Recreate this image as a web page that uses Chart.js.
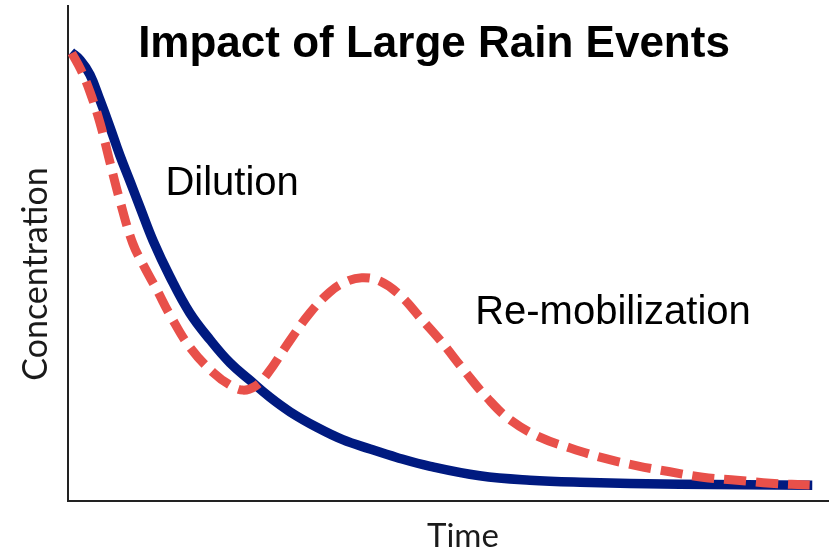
<!DOCTYPE html>
<html>
<head>
<meta charset="utf-8">
<script src="https://cdn.jsdelivr.net/npm/chart.js@4"></script>
<style>
  html, body { margin: 0; padding: 0; background: #fff; }
  #wrap { width: 829px; height: 551px; }
</style>
</head>
<body>
<div id="wrap"><canvas id="chart"></canvas></div>
<script>
// time (0-100) and concentration (0-100)
const dilutionX = [0.4, 1.6, 2.9, 4.2, 5.5, 6.8, 8.2, 9.5, 11.2, 13.4, 16.0, 18.7, 21.3, 23.9, 26.5, 29.2, 32.7, 36.1, 39.7, 43.2, 47.6, 54.1, 60.7, 67.3, 80.4, 97.8];
const dilutionY = [90.7, 89.1, 86.1, 81.0, 75.6, 69.9, 64.4, 59.2, 52.5, 45.3, 38.0, 32.5, 27.9, 24.4, 21.0, 18.0, 14.9, 12.4, 10.5, 8.8, 7.0, 5.1, 4.2, 3.8, 3.4, 3.2];

const remobX = [0.5, 1.7, 2.9, 4.2, 5.5, 6.8, 8.5, 10.1, 11.7, 13.4, 16.0, 19.1, 21.3, 23.0, 24.6, 26.2, 29.2, 31.8, 34.4, 36.4, 38.6, 41.0, 43.6, 46.3, 48.9, 52.2, 55.1, 58.1, 62.0, 66.0, 70.3, 74.8, 79.1, 83.4, 87.9, 92.3, 97.9];
const remobY = [90.5, 87.1, 82.6, 76.4, 68.5, 60.8, 52.1, 47.1, 42.6, 37.6, 31.1, 25.9, 23.4, 22.4, 23.2, 25.7, 32.5, 38.0, 42.2, 44.2, 45.1, 44.4, 41.6, 37.0, 32.5, 26.1, 20.8, 16.4, 12.9, 10.7, 8.7, 7.1, 5.9, 4.8, 4.2, 3.6, 3.2];

const chartTitle = 'Impact of Large Rain Events';
const xTitle = 'Time';
const yTitle = 'Concentration';
const notes = [
    { text: 'Dilution', x: 12.8, y: 64 },
    { text: 'Re-mobilization', x: 53.5, y: 38 }
];

const toPoints = (xs, ys) => xs.map((x, i) => ({ x: x, y: ys[i] }));

const textPlugin = {
    id: 'texts',
    afterDatasetsDraw(chart) {
        const ctx = chart.ctx;
        const xs = chart.scales.x;
        const ys = chart.scales.y;
        ctx.save();
        ctx.fillStyle = '#000';
        ctx.textAlign = 'center';
        ctx.textBaseline = 'alphabetic';
        ctx.font = 'bold 44px "Liberation Sans", Arial, sans-serif';
        ctx.fillText(chartTitle, 434, 57);

        ctx.textAlign = 'left';
        ctx.textBaseline = 'middle';
        ctx.font = '40px "Liberation Sans", Arial, sans-serif';
        notes.forEach(n => {
            ctx.fillText(n.text, xs.getPixelForValue(n.x), ys.getPixelForValue(n.y));
        });

        // axis titles
        ctx.fillStyle = '#1a1a1a';
        ctx.textAlign = 'center';
        ctx.font = '33px Lato, sans-serif';
        ctx.fillText(xTitle, 463, 536);
        ctx.translate(36, 274);
        ctx.rotate(-Math.PI / 2);
        ctx.font = '34px Lato, sans-serif';
        ctx.fillText(yTitle, 0, 0);
        ctx.restore();
    }
};

new Chart(document.getElementById('chart').getContext('2d'), {
    type: 'scatter',
    data: {
        datasets: [{
            label: 'Re-mobilization',
            data: toPoints(remobX, remobY),
            showLine: true,
            borderColor: '#e8504a',
            borderWidth: 9,
            borderDash: [22, 10],
            borderCapStyle: 'butt',
            tension: 0.4,
            pointRadius: 0
        }, {
            label: 'Dilution',
            data: toPoints(dilutionX, dilutionY),
            showLine: true,
            borderColor: '#001a80',
            borderWidth: 9.5,
            tension: 0.4,
            pointRadius: 0
        }]
    },
    options: {
        responsive: true,
        maintainAspectRatio: false,
        animation: false,
        layout: { padding: { top: 6, right: 0, left: 0, bottom: 0 } },
        plugins: {
            legend: { display: false },
            tooltip: { enabled: false }
        },
        scales: {
            x: {
                type: 'linear',
                min: 0,
                max: 100,
                grid: { display: false },
                border: { display: true, color: '#222', width: 2 },
                ticks: { display: false },
                afterFit(scale) { scale.height = 50; }
            },
            y: {
                min: 0,
                max: 100,
                grid: { display: false },
                border: { display: true, color: '#222', width: 2 },
                ticks: { display: false },
                afterFit(scale) { scale.width = 68; }
            }
        }
    },
    plugins: [textPlugin]
});
</script>
</body>
</html>
